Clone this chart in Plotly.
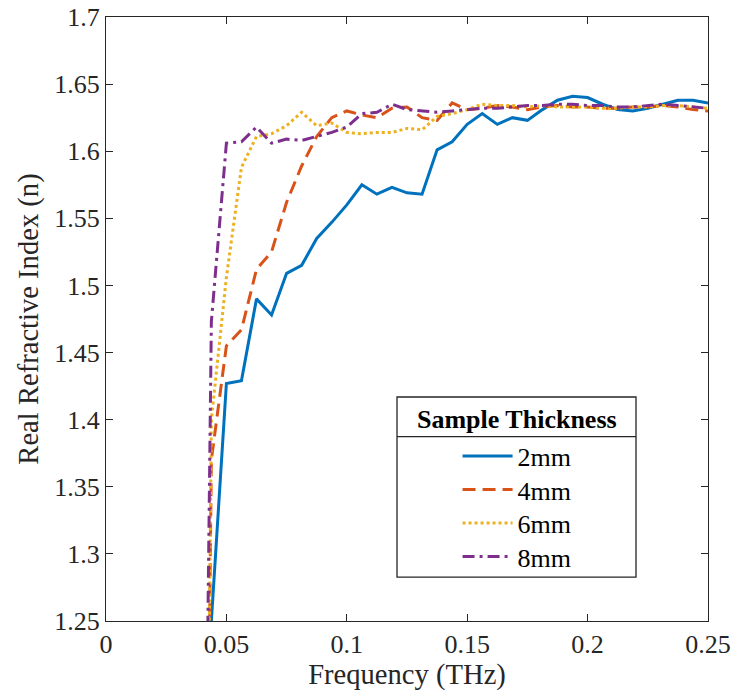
import plotly.graph_objects as go

# ---------------- data ----------------
freq_thz = [0.0375, 0.04375, 0.05, 0.05625, 0.0625, 0.06875, 0.075, 0.08125, 0.0875,
            0.09375, 0.1, 0.10625, 0.1125, 0.11875, 0.125, 0.13125, 0.1375, 0.14375,
            0.15, 0.15625, 0.1625, 0.16875, 0.175, 0.18125, 0.1875, 0.19375, 0.2,
            0.20625, 0.2125, 0.21875, 0.225, 0.23125, 0.2375, 0.24375, 0.25]

n_2mm = [0.40, 1.250, 1.427, 1.429, 1.490, 1.478, 1.509, 1.515, 1.535, 1.547, 1.560,
         1.575, 1.568, 1.573, 1.569, 1.568, 1.601, 1.607, 1.620, 1.628, 1.620, 1.625,
         1.623, 1.631, 1.638, 1.641, 1.640, 1.635, 1.631, 1.630, 1.632, 1.635, 1.638,
         1.638, 1.636]

n_4mm = [0.30, 1.370, 1.455, 1.467, 1.512, 1.525, 1.562, 1.589, 1.611, 1.625, 1.630,
         1.627, 1.625, 1.632, 1.633, 1.625, 1.623, 1.636, 1.631, 1.632, 1.634, 1.633,
         1.631, 1.633, 1.634, 1.633, 1.633, 1.632, 1.632, 1.633, 1.633, 1.634, 1.633,
         1.631, 1.630]

n_6mm = [0.20, 1.400, 1.506, 1.588, 1.611, 1.613, 1.619, 1.629, 1.619, 1.621, 1.614,
         1.613, 1.614, 1.614, 1.617, 1.616, 1.626, 1.628, 1.631, 1.635, 1.634, 1.634,
         1.633, 1.634, 1.633, 1.633, 1.633, 1.632, 1.632, 1.633, 1.633, 1.634, 1.634,
         1.633, 1.632]

n_8mm = [0.50, 1.473, 1.606, 1.607, 1.618, 1.606, 1.609, 1.608, 1.611, 1.614, 1.618,
         1.628, 1.629, 1.635, 1.631, 1.630, 1.629, 1.630, 1.631, 1.632, 1.632, 1.633,
         1.634, 1.634, 1.635, 1.635, 1.634, 1.634, 1.633, 1.633, 1.634, 1.635, 1.634,
         1.633, 1.632]

series_names = ["2mm", "4mm", "6mm", "8mm"]
series_values = [n_2mm, n_4mm, n_6mm, n_8mm]

x_tickvals = [0, 0.05, 0.1, 0.15, 0.2, 0.25]
x_ticktext = ["0", "0.05", "0.1", "0.15", "0.2", "0.25"]
y_tickvals = [1.25, 1.3, 1.35, 1.4, 1.45, 1.5, 1.55, 1.6, 1.65, 1.7]
y_ticktext = ["1.25", "1.3", "1.35", "1.4", "1.45", "1.5", "1.55", "1.6", "1.65", "1.7"]

legend_title = "Sample Thickness"
x_title = "Frequency (THz)"
y_title = "Real Refractive Index (n)"

# ---------------- style ----------------
colors = ["#0072BD", "#D95319", "#EDB120", "#7E2F8E"]
dashes = ["solid", "13px,7px", "3px,3px", "12px,5px,3px,5px"]
legend_ids = ["legend", "legend2", "legend3", "legend4"]
legend_rows_y = [0.3119, 0.2565, 0.2010, 0.1456]
FONT = "Liberation Serif"
AX = "#262626"

fig = go.Figure()
for name, vals, c, d, lg in zip(series_names, series_values, colors, dashes, legend_ids):
    fig.add_trace(go.Scatter(x=freq_thz, y=vals, mode="lines", name=name, legend=lg,
                             line=dict(color=c, width=3, dash=d)))

axis_common = dict(showline=True, linecolor=AX, linewidth=1, mirror="ticks",
                   ticks="inside", ticklen=7, tickcolor=AX, tickwidth=1,
                   showgrid=False, zeroline=False, automargin=False,
                   tickfont=dict(family=FONT, size=26, color=AX))

legend_layouts = {}
for lg, ly in zip(legend_ids, legend_rows_y):
    legend_layouts[lg] = dict(x=0.584, y=ly, xanchor="left", yanchor="top",
                              bgcolor="rgba(0,0,0,0)", borderwidth=0, itemwidth=50,
                              font=dict(family=FONT, size=26, color="black"))

fig.update_layout(
    width=733, height=700,
    margin=dict(l=106, r=25, t=17, b=79),
    paper_bgcolor="white", plot_bgcolor="white",
    font=dict(family=FONT, color=AX),
    xaxis=dict(range=[0, 0.25], tickvals=x_tickvals, ticktext=x_ticktext,
               title=dict(text=x_title, font=dict(family=FONT, size=28.6, color=AX), standoff=4),
               **axis_common),
    yaxis=dict(range=[1.25, 1.7], tickvals=y_tickvals, ticktext=y_ticktext,
               title=dict(text=y_title, font=dict(family=FONT, size=28.6, color=AX), standoff=7),
               **axis_common),
    showlegend=True,
    **legend_layouts,
)

# legend frame, separator and title
fig.add_shape(type="rect", xref="paper", yref="paper", x0=0.4834, x1=0.8804, y0=0.0728, y1=0.3709,
              line=dict(color=AX, width=1.3), fillcolor="rgba(255,255,255,0)", layer="above")
fig.add_shape(type="line", xref="paper", yref="paper", x0=0.4834, x1=0.8804, y0=0.3051, y1=0.3051,
              line=dict(color=AX, width=1.3), layer="above")
fig.add_annotation(xref="paper", yref="paper", x=0.6819, y=0.3344, text="<b>" + legend_title + "</b>",
                   showarrow=False, xanchor="center", yanchor="middle",
                   font=dict(family=FONT, size=26, color="black"))

fig.write_html("out.html",
               config={"displayModeBar": False},
               post_script="document.body.style.margin='0';document.body.style.overflow='hidden';")
